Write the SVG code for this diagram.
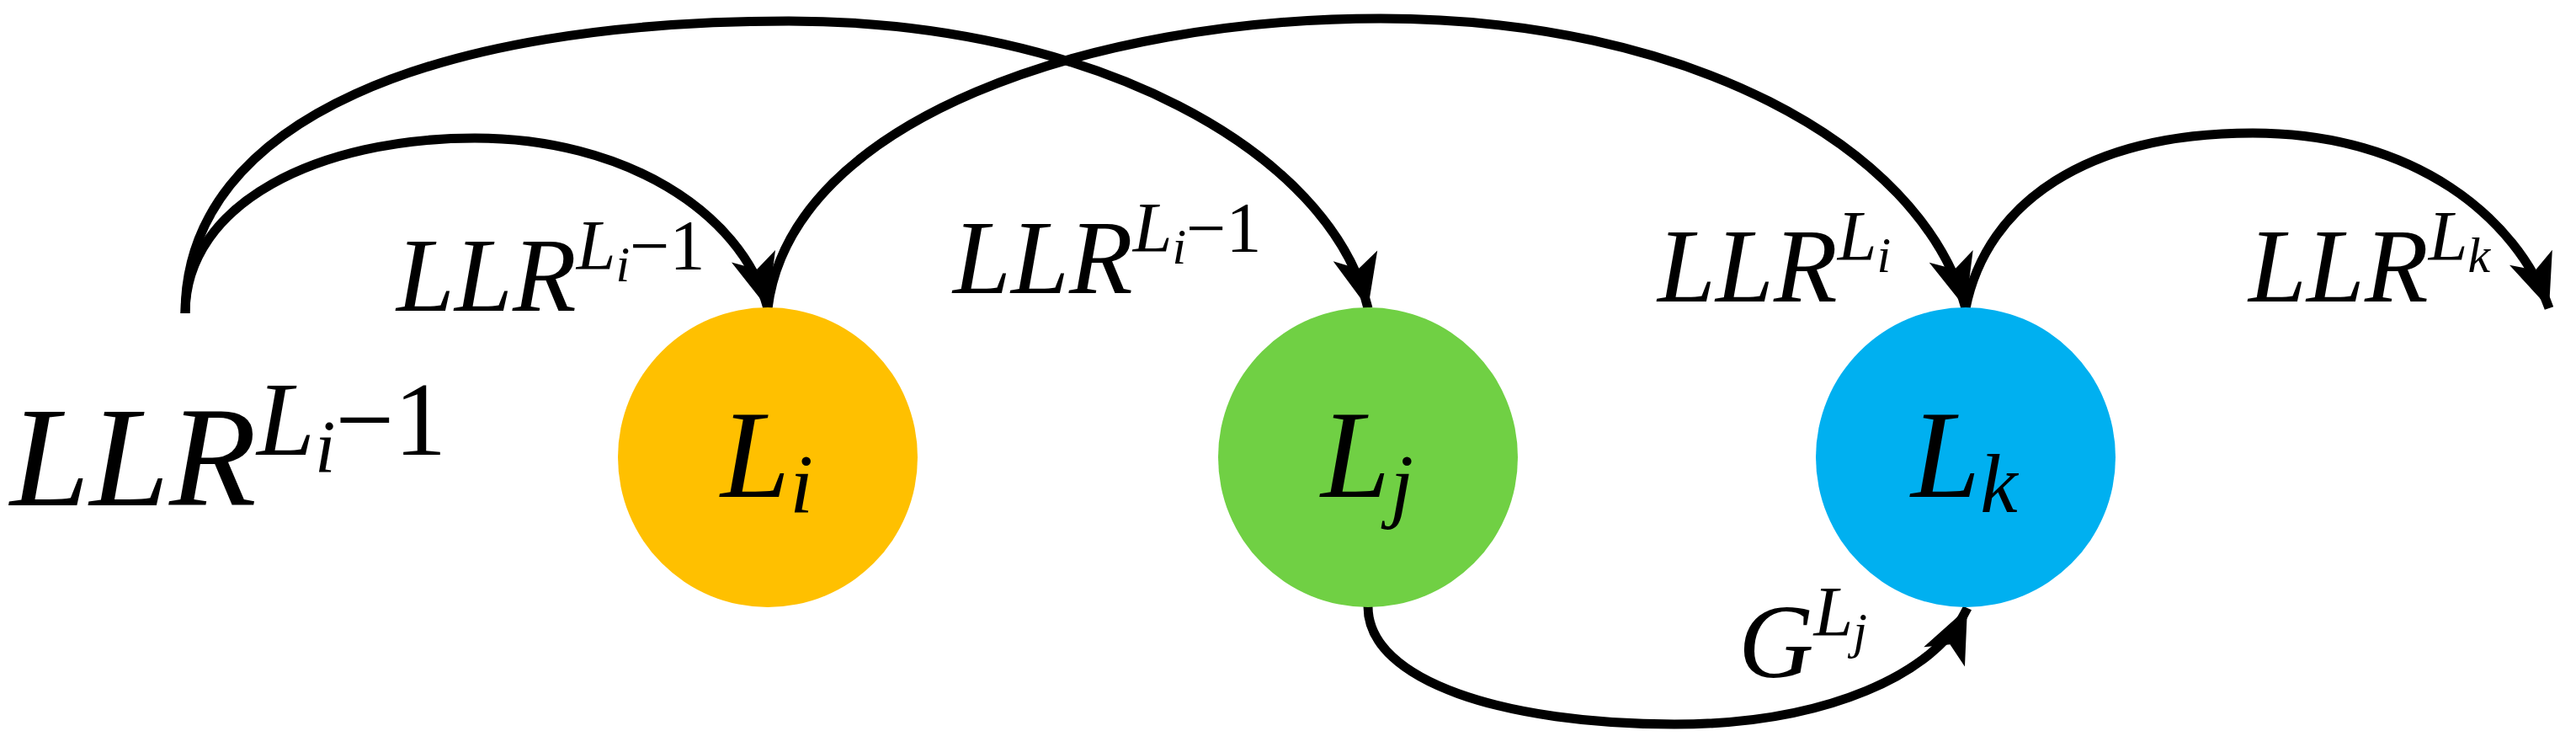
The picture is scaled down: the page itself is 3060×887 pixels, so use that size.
<svg xmlns="http://www.w3.org/2000/svg" width="3060" height="887" viewBox="0 0 3060 887">
<defs>
<marker id="ah" markerUnits="userSpaceOnUse" markerWidth="80" markerHeight="80" viewBox="-70 -40 80 80" refX="0" refY="0" orient="auto">
<path d="M0,0 L-64,-27 L-48,0 L-64,27 Z" fill="#000"/>
</marker>
</defs>
<style>
.c{fill:none;stroke:#000;stroke-width:11;marker-end:url(#ah)}
text{font-family:"Liberation Serif","Times New Roman",serif;font-style:italic;fill:#000}
.u{font-style:normal}
</style>
<rect width="3060" height="887" fill="#fff"/>
<g id="connectors">
<path class="c" d="M220,372 C220,240 380,164 564,164 C740,164 880,250 912,366"/>
<path class="c" d="M220,372 C220,140 520,25 937,25 C1300,25 1580,180 1625,366"/>
<path class="c" d="M912,366 C940,140 1300,22 1640,22 C2000,22 2280,170 2335,366"/>
<path class="c" d="M2335,366 C2360,240 2480,158 2676,158 C2870,158 2990,260 3028,366"/>
<path class="c" d="M1625,720 C1625,810 1790,860 1989,860 C2170,860 2300,800 2337,722"/>
</g>
<g id="Li"><circle cx="912" cy="543" r="178" fill="#FFC000"/>
<text x="856" y="590" font-size="148">L<tspan font-size="100" dy="18">i</tspan></text></g>
<g id="Lj"><circle cx="1625" cy="543" r="178" fill="#70D044"/>
<text x="1569" y="590" font-size="148">L<tspan font-size="100" dy="18">j</tspan></text></g>
<g id="Lk"><circle cx="2335" cy="543" r="178" fill="#00B0F0"/>
<text x="2270" y="590" font-size="148">L<tspan font-size="100" dy="18">k</tspan></text></g>
<g id="labels">
<text x="12" y="600" font-size="170">LLR<tspan font-size="124" dy="-60">L</tspan><tspan font-size="88" dy="20">i</tspan><tspan class="u" font-size="124" dy="-20">−1</tspan></text>
<text x="471" y="369" font-size="124">LLR<tspan font-size="84" dy="-49">L</tspan><tspan font-size="60" dy="14">i</tspan><tspan class="u" font-size="84" dy="-14">−1</tspan></text>
<text x="1132" y="348" font-size="124">LLR<tspan font-size="84" dy="-49">L</tspan><tspan font-size="60" dy="14">i</tspan><tspan class="u" font-size="84" dy="-14">−1</tspan></text>
<text x="1969" y="358" font-size="124">LLR<tspan font-size="84" dy="-49">L</tspan><tspan font-size="60" dy="14">i</tspan></text>
<text x="2671" y="358" font-size="124">LLR<tspan font-size="84" dy="-49">L</tspan><tspan font-size="60" dy="14">k</tspan></text>
<text x="2065" y="804" font-size="124">G<tspan font-size="84" dy="-49">L</tspan><tspan font-size="60" dy="14">j</tspan></text>
</g>
</svg>
